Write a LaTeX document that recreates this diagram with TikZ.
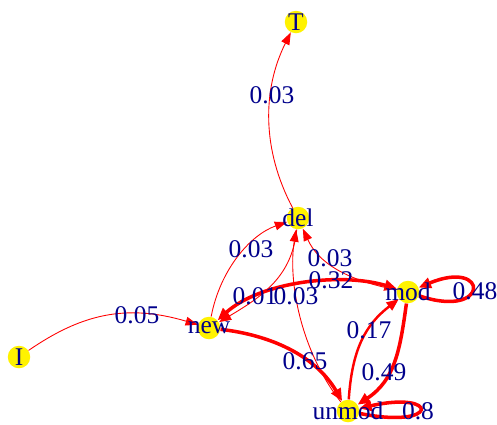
\documentclass[tikz,border=0pt]{standalone}
\usepackage{fontspec}
\setmainfont{Liberation Serif}
\usetikzlibrary{arrows.meta}
\definecolor{navy}{RGB}{0,0,139}

\begin{document}
\begin{tikzpicture}[x=0.02cm, y=-0.02cm,
    st/.style={circle, fill=yellow, minimum size=0.45cm, inner sep=0pt},
    nm/.style={text=navy, font=\fontsize{14.5}{17}\selectfont, inner sep=0pt},
    lite/.style={draw=red, line width=0.5pt, -{Triangle[length=7pt,width=5pt]}},
    mid/.style={lite, line width=1.4pt, -{Triangle[length=7pt,width=5.5pt]}},
    heavy/.style={lite, line width=2pt, -{Triangle[length=7pt,width=6pt]}},
    both/.style={heavy, {Triangle[length=7pt,width=6pt]}-{Triangle[length=7pt,width=6pt]}}]
  \useasboundingbox (0,0) rectangle (497,424);

  % states
  \node[st] (T) at (296,22) {};
  \node[st] (del) at (298,218) {};
  \node[st] (new) at (209,328) {};
  \node[st] (mod) at (408,292) {};
  \node[st] (unmod) at (348,411) {};
  \node[st] (I) at (19,357) {};

  % transitions
  \draw[lite] (I) .. controls (80,315) and (125,303) .. (new);
  \draw[lite] (del) .. controls (262,150) and (262,90) .. (T);
  \draw[lite] (new) .. controls (220,270) and (250,235) .. (del);
  \draw[lite] (del) .. controls (292,275) and (265,295) .. (new);
  \draw[lite] (unmod) .. controls (300,350) and (288,280) .. (del);
  \draw[lite] (mod) .. controls (345,280) and (318,262) .. (del);
  \draw[both] (new) .. controls (260,282) and (340,272) .. (mod);
  \draw[heavy] (new) .. controls (270,335) and (315,355) .. (unmod);
  \draw[heavy] (mod) .. controls (400,350) and (395,380) .. (unmod);
  \draw[mid] (unmod) .. controls (352,350) and (365,325) .. (mod);
  \draw[heavy] (mod) .. controls (490,320) and (490,258) .. (mod);
  \draw[heavy] (unmod) .. controls (440,430) and (440,390) .. (unmod);

  % weights
  \node[nm] (w-it) at (137,315) {0.05};
  \node[nm] (w-dt) at (272,95) {0.03};
  \node[nm] (w-nd) at (251,249) {0.03};
  \node[nm] (w-md) at (330,258) {0.03};
  \node[nm] (w-nm) at (331,280) {0.32};
  \node[nm] (w-dn) at (255,296) {0.01};
  \node[nm] (w-ud) at (296,296) {0.03};
  \node[nm] (w-nu) at (305,361) {0.65};
  \node[nm] (w-um) at (369,330) {0.17};
  \node[nm] (w-mu) at (384,372) {0.49};
  \node[nm] (w-mm) at (475,291) {0.48};
  \node[nm] (w-uu) at (418,411) {0.8};

  % state names
  \node[nm] (T-name) at (T) {T};
  \node[nm] (del-name) at (del) {del};
  \node[nm] (new-name) at (new) {new};
  \node[nm] (mod-name) at (mod) {mod};
  \node[nm] (unmod-name) at (unmod) {unmod};
  \node[nm] (I-name) at (I) {I};
\end{tikzpicture}
\end{document}
